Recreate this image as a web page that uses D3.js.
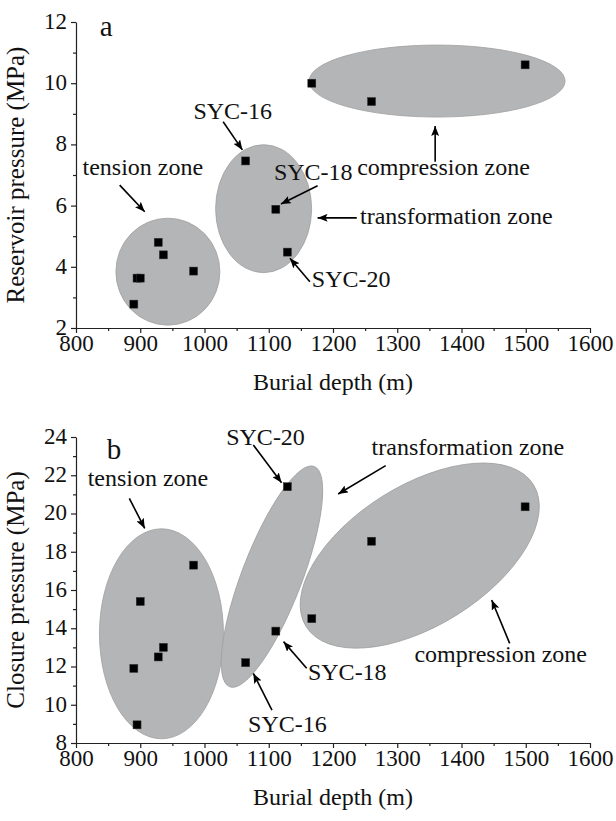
<!DOCTYPE html>
<meta charset="utf-8">
<style>
body { margin: 0; background: #fff; }
text { font-family: "Liberation Serif", "Times New Roman", serif; fill: #111; }
.axis path, .axis line { stroke: #222; stroke-width: 1.2px; }
.axis text { font-size: 23px; font-family: "Liberation Serif", serif; fill: #111; }
.zone { fill: #b4b5b6; stroke: #a0a0a0; stroke-width: 0.8px; }
.pt { fill: #000; stroke: #333; stroke-width: 0.5px; }
.arrow { stroke: #000; stroke-width: 1.6px; fill: none; }
.note { font-size: 24px; }
</style>
<svg width="616" height="821"></svg>
<script src="https://d3js.org/d3.v7.min.js"></script>
<script>

// well samples (same wells in both panels)
var depth     = [890, 895, 900, 928, 936, 983, 1064, 1111, 1129, 1167, 1260, 1499];
var reservoir = [2.78, 3.63, 3.63, 4.8, 4.39, 3.86, 7.46, 5.88, 4.48, 10.0, 9.4, 10.6];
var closure   = [11.9, 8.95, 15.4, 12.5, 13.0, 17.3, 12.2, 13.85, 21.4, 14.5, 18.55, 20.35];

var xTicks  = [800, 900, 1000, 1100, 1200, 1300, 1400, 1500, 1600];
var yTicksA = [2, 4, 6, 8, 10, 12];
var yTicksB = [8, 10, 12, 14, 16, 18, 20, 22, 24];

// zone ellipses: centre in data units, radii in px, rotation in degrees
var zonesA = [
  {cx: 943, cy: 3.84, rx: 52, ry: 53.5, rot: 0},
  {cx: 1092, cy: 5.9, rx: 48, ry: 64, rot: 0},
  {cx: 1362, cy: 10.07, rx: 128, ry: 36, rot: 0}
];
var zonesB = [
  {cx: 933, cy: 13.71, rx: 62, ry: 105, rot: 0},
  {cx: 1105, cy: 16.7, rx: 118, ry: 30, rot: -69},
  {cx: 1335, cy: 17.8, rx: 134, ry: 70, rot: -32}
];

// labels [text, x, y, anchor] and arrows [x1, y1, x2, y2] in data units
var notesA = [
  ["tension zone", 904, 7.0, "middle"],
  ["SYC-16", 1044, 8.83, "middle"],
  ["SYC-18", 1108, 6.84, "start"],
  ["compression zone", 1372, 7.0, "middle"],
  ["transformation zone", 1242, 5.4, "start"],
  ["SYC-20", 1167, 3.35, "start"]
];
var arrowsA = [
  [868, 6.67, 907, 5.8],
  [1029, 8.74, 1059, 7.82],
  [1176, 6.65, 1119, 6.05],
  [1359, 7.43, 1359, 8.6],
  [1237, 5.6, 1176, 5.6],
  [1164, 3.51, 1133, 4.28]
];
var notesB = [
  ["tension zone", 912, 21.42, "middle"],
  ["SYC-20", 1095, 23.58, "middle"],
  ["transformation zone", 1410, 23.06, "middle"],
  ["SYC-18", 1161, 11.29, "start"],
  ["SYC-16", 1129, 8.6, "middle"],
  ["compression zone", 1461, 12.25, "middle"]
];
var arrowsB = [
  [883, 20.79, 907, 19.22],
  [1076, 23.58, 1120, 21.61],
  [1282, 22.5, 1208, 21.02],
  [1159, 11.91, 1123, 13.3],
  [1105, 9.72, 1076, 11.64],
  [1475, 13.21, 1447, 15.48]
];

var svg = d3.select("svg");

svg.append("defs").append("marker")
    .attr("id", "head")
    .attr("viewBox", "0 0 10 8")
    .attr("refX", 10).attr("refY", 4)
    .attr("markerWidth", 10).attr("markerHeight", 8)
    .attr("markerUnits", "userSpaceOnUse")
    .attr("orient", "auto")
  .append("path")
    .attr("d", "M0,0L10,4L0,8L2,4Z")
    .attr("fill", "#000");

var x = d3.scaleLinear().domain([800, 1600]).range([76, 590]);
var fmt = d3.format("d");

function panel(opt) {
  var y = d3.scaleLinear().domain(opt.yDomain).range(opt.yRange);
  var g = svg.append("g");

  g.selectAll("ellipse").data(opt.zones).enter().append("ellipse")
      .attr("class", "zone")
      .attr("rx", function(d) { return d.rx; })
      .attr("ry", function(d) { return d.ry; })
      .attr("transform", function(d) {
        return "translate(" + x(d.cx) + "," + y(d.cy) + ") rotate(" + d.rot + ")";
      });

  var s = 8;
  g.selectAll("rect.pt").data(depth).enter().append("rect")
      .attr("class", "pt")
      .attr("x", function(d) { return x(d) - s / 2; })
      .attr("y", function(d, i) { return y(opt.values[i]) - s / 2; })
      .attr("width", s).attr("height", s);

  // axes
  var bottom = opt.yRange[0];
  g.append("g").attr("class", "axis")
      .attr("transform", "translate(0," + bottom + ")")
      .call(d3.axisBottom(x).tickValues(xTicks).tickFormat(fmt).tickSize(5).tickSizeOuter(0).tickPadding(2));
  g.append("g").attr("class", "axis")
      .attr("transform", "translate(0," + bottom + ")")
      .call(d3.axisBottom(x).tickValues(d3.range(850, 1600, 100)).tickSize(3).tickFormat(""))
      .select(".domain").remove();

  g.append("g").attr("class", "axis")
      .attr("transform", "translate(" + x(800) + ",0)")
      .call(d3.axisLeft(y).tickValues(opt.yTicks).tickFormat(fmt).tickSize(5).tickSizeOuter(0).tickPadding(4))
    .selectAll(".tick text").attr("dy", "0.28em");
  g.append("g").attr("class", "axis")
      .attr("transform", "translate(" + x(800) + ",0)")
      .call(d3.axisLeft(y).tickValues(d3.range(opt.yDomain[0] + 1, opt.yDomain[1], 2)).tickSize(3).tickFormat(""))
      .select(".domain").remove();

  g.append("text")
      .attr("x", (x(800) + x(1600)) / 2)
      .attr("y", bottom + 62)
      .attr("text-anchor", "middle")
      .style("font-size", "24px")
      .text("Burial depth (m)");

  g.append("text")
      .attr("transform", "translate(24," + (opt.yRange[0] + opt.yRange[1]) / 2 + ") rotate(-90)")
      .attr("text-anchor", "middle")
      .style("font-size", "25px")
      .text(opt.yTitle);

  g.append("text")
      .attr("x", x(opt.letter[1])).attr("y", y(opt.letter[2]))
      .style("font-size", "29px")
      .text(opt.letter[0]);

  g.selectAll("line.arrow").data(opt.arrows).enter().append("line")
      .attr("class", "arrow")
      .attr("x1", function(d) { return x(d[0]); })
      .attr("y1", function(d) { return y(d[1]); })
      .attr("x2", function(d) { return x(d[2]); })
      .attr("y2", function(d) { return y(d[3]); })
      .attr("marker-end", "url(#head)");

  g.selectAll("text.note").data(opt.notes).enter().append("text")
      .attr("class", "note")
      .attr("x", function(d) { return x(d[1]); })
      .attr("y", function(d) { return y(d[2]); })
      .attr("text-anchor", function(d) { return d[3]; })
      .text(function(d) { return d[0]; });
}

panel({
  yDomain: [2, 12], yRange: [328, 22], yTicks: yTicksA,
  values: reservoir, zones: zonesA, notes: notesA, arrows: arrowsA,
  yTitle: "Reservoir pressure (MPa)", letter: ["a", 837, 11.54]
});

panel({
  yDomain: [8, 24], yRange: [743, 437], yTicks: yTicksB,
  values: closure, zones: zonesB, notes: notesB, arrows: arrowsB,
  yTitle: "Closure pressure (MPa)", letter: ["b", 848, 22.85]
});

</script>
